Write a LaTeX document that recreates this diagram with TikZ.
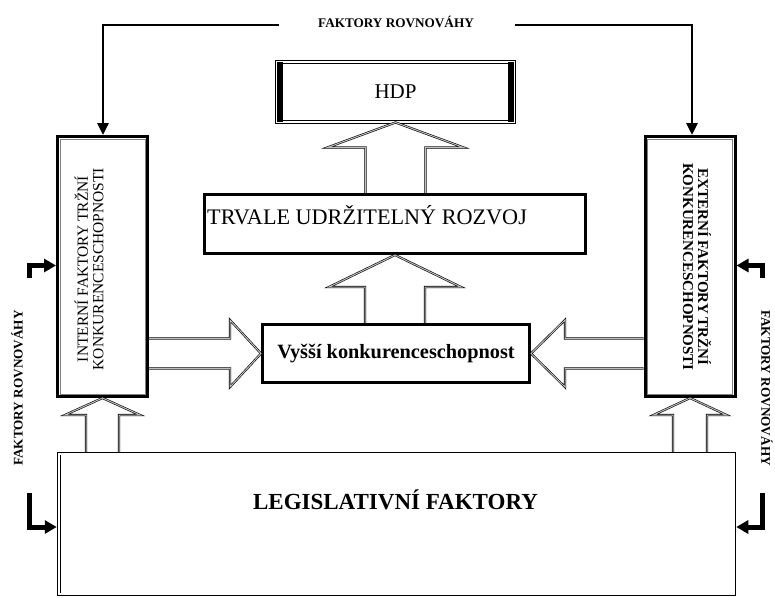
\documentclass[tikz,border=0pt]{standalone}
\usepackage{fontspec}
\setmainfont{Liberation Serif}
\usetikzlibrary{arrows.meta,calc}
\newcommand\fsz[1]{\fontsize{#1}{#1}\selectfont}
% vertical block arrow: #1 tip, #2 base, #3 shaft half width, #4 head half width, #5 head length
\newcommand\blockup[5]{%
 \draw[blockarrow] let \p1=(#1), \p2=(#2) in
  ({\x1-(#3)*1pt},\y2) -- ({\x1-(#3)*1pt},{\y1-(#5)*1pt}) -- ({\x1-(#4)*1pt},{\y1-(#5)*1pt})
  -- (\x1,\y1) -- ({\x1+(#4)*1pt},{\y1-(#5)*1pt}) -- ({\x1+(#3)*1pt},{\y1-(#5)*1pt}) -- ({\x1+(#3)*1pt},\y2);}
% horizontal block arrow: #6 = direction from tip to base (+1 / -1)
\newcommand\blockh[6]{%
 \draw[blockarrow] let \p1=(#1), \p2=(#2) in
  (\x2,{\y1+(#3)*1pt}) -- ({\x1+(#6)*(#5)*1pt},{\y1+(#3)*1pt}) -- ({\x1+(#6)*(#5)*1pt},{\y1+(#4)*1pt})
  -- (\x1,\y1) -- ({\x1+(#6)*(#5)*1pt},{\y1-(#4)*1pt}) -- ({\x1+(#6)*(#5)*1pt},{\y1-(#3)*1pt}) -- (\x2,{\y1-(#3)*1pt});}
\tikzset{
  blockarrow/.style={draw=black, line width=0.6pt, double=gray!50, double distance=1pt, line join=miter},
  hdpbox/.style={draw, line width=0.9pt, double, double distance=2.2pt, fill=white,
     minimum width=237pt, minimum height=60pt, inner sep=0pt},
  thickbox/.style={draw, line width=3pt, fill=white, inner sep=0pt},
  sidebox/.style={draw, line width=3pt, fill=white, minimum width=90pt, minimum height=260pt, inner sep=0pt},
  legbox/.style={draw, line width=1.5pt, fill=white, minimum width=678pt, minimum height=143pt, inner sep=0pt},
  feed/.style={line width=2.8pt, -{Triangle[width=11pt,length=12pt]}},
  side/.style={line width=5pt, line join=miter, -{Triangle[width=13pt,length=12pt]}},
  lbl/.style={font=\bfseries\fsz{13.2}, inner sep=0pt}
}
\begin{document}
\begin{tikzpicture}[x=1pt,y=-1pt]
\useasboundingbox (0,0) rectangle (775,597);

% boxes
\node[hdpbox] (hdp) at (395.5,92) {\fsz{21}HDP};
\fill (hdp.north west) rectangle ([xshift=6pt]hdp.south west);
\fill (hdp.north east) rectangle ([xshift=-6pt]hdp.south east);

\node[thickbox, minimum width=381pt, minimum height=59pt] (trv) at (395,224) {};
\node[anchor=west, inner sep=0pt, font=\fsz{22.2}] (trvtext) at (207,215) {TRVALE UDRŽITELNÝ ROZVOJ};

\node[thickbox, minimum width=267pt, minimum height=58pt, font=\bfseries\fsz{20.3}] (vys) at (396,353.5) {Vyšší konkurenceschopnost};

\node[sidebox] (int) at (102.5,266.5) {};
\draw[gray, line width=0.8pt] ([shift={(4pt,-4pt)}]int.north west) rectangle ([shift={(-4pt,4pt)}]int.south east);
\node[rotate=90, align=center, font=\fsz{15.5}, inner sep=0pt] (inttext) at (89,269)
  {INTERNÍ FAKTORY TRŽNÍ\\KONKURENCESCHOPNOSTI};

\node[sidebox] (ext) at (690,266.5) {};
\draw[gray, line width=0.8pt] ([shift={(4pt,-4pt)}]ext.north west) rectangle ([shift={(-4pt,4pt)}]ext.south east);
\node[rotate=-90, align=center, font=\bfseries\fsz{15}, inner sep=0pt] (exttext) at (697,267)
  {EXTERNÍ FAKTORY TRŽNÍ\\KONKURENCESCHOPNOSTI};

\node[legbox] (leg) at (396.5,524) {};
\draw[line width=0.9pt] ([shift={(4pt,-3pt)}]leg.north west) -- ([shift={(4pt,3pt)}]leg.south west);
\node[font=\bfseries\fsz{23}, inner sep=0pt] (legtext) at (395.5,500) {LEGISLATIVNÍ FAKTORY};

% block arrows
\blockup{hdp.south}{trv.north}{30}{68}{25}
\blockup{trv.south}{vys.north}{30}{66}{32}
\blockup{int.south}{leg.north}{16.5}{37.5}{17}
\blockup{ext.south}{leg.north}{17}{36.5}{17}
\blockh{vys.west}{int.east}{15}{33.5}{31}{-1}
\blockh{vys.east}{ext.west}{15}{33.5}{34}{1}

% top labels and feedback lines
\node[lbl] (toplbl) at (396,22) {FAKTORY ROVNOVÁHY};
\coordinate (tl) at (279,25);
\coordinate (tr) at (515,25);
\draw[feed] (tl) -| ([xshift=0.5pt]int.north);
\draw[feed] (tr) -| ([xshift=2pt]ext.north);

% side labels
\node[lbl, rotate=90] (llbl) at (17,388) {FAKTORY ROVNOVÁHY};
\node[lbl, rotate=-90] (rlbl) at (767,388) {FAKTORY ROVNOVÁHY};

% side small arrows
\coordinate (lt) at (29.5,278);
\coordinate (lb) at (29.5,493);
\coordinate (rt) at (762,278);
\coordinate (rb) at (762,493);
\draw[side] (lt) |- ([yshift=1pt]int.west);
\draw[side] (lb) |- ([yshift=-3pt]leg.west);
\draw[side] (rt) |- ([yshift=1pt]ext.east);
\draw[side] (rb) |- ([yshift=-3pt]leg.east);
\end{tikzpicture}
\end{document}
